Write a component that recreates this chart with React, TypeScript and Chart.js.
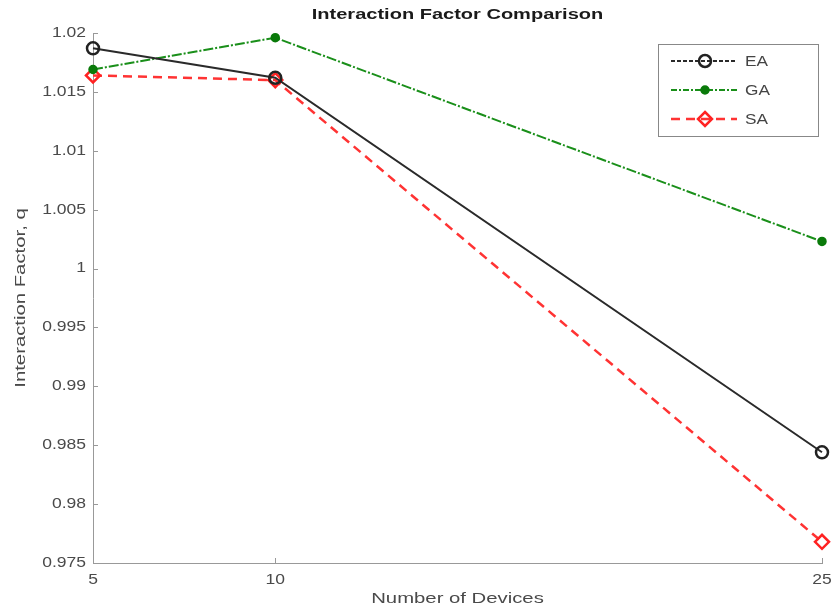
import React, { useEffect, useRef } from "react";
import { Chart, registerables } from "chart.js";

Chart.register(...registerables);

const devices = [5, 10, 25];
const xTickValues = [5, 10, 25];
const eaValues = [1.0187, 1.0162, 0.9844];
const gaValues = [1.0169, 1.0196, 1.0023];
const saValues = [1.0164, 1.0160, 0.9768];

const titleText = "Interaction Factor Comparison";
const xLabel = "Number of Devices";
const yLabel = "Interaction Factor, q";
const legendNames = ["EA", "GA", "SA"];

const FONT = "'Liberation Sans', Arial, Helvetica, sans-serif";

function fmtTick(v: number): string {
  return String(Number(v.toFixed(3)));
}

// Text drawn with a horizontal stretch (wide Helvetica look).
function wideText(
  ctx: CanvasRenderingContext2D,
  text: string,
  x: number,
  y: number,
  sx: number,
  align: CanvasTextAlign
) {
  ctx.save();
  ctx.translate(x, y);
  ctx.scale(sx, 1);
  ctx.textAlign = align;
  ctx.textBaseline = "middle";
  ctx.fillText(text, 0, 0);
  ctx.restore();
}

// Draws MATLAB-like inward ticks, tick labels, title, axis labels and the boxed legend.
const decorPlugin = {
  id: "decor",
  afterDraw(chart: any) {
    const { ctx, chartArea, scales } = chart;
    const xs = scales.x;
    const ys = scales.y;
    ctx.save();
    ctx.strokeStyle = "#999";
    ctx.lineWidth = 1;
    // inward ticks
    ctx.beginPath();
    for (const t of xs.ticks) {
      const px = Math.round(xs.getPixelForValue(t.value)) + 0.5;
      ctx.moveTo(px, chartArea.bottom);
      ctx.lineTo(px, chartArea.bottom - 5);
    }
    for (const t of ys.ticks) {
      const py = Math.round(ys.getPixelForValue(t.value)) + 0.5;
      ctx.moveTo(chartArea.left, py);
      ctx.lineTo(chartArea.left + 5, py);
    }
    ctx.stroke();

    // tick labels
    ctx.fillStyle = "#4a4a4a";
    ctx.font = `14px ${FONT}`;
    for (const t of xs.ticks) {
      wideText(ctx, String(t.value), xs.getPixelForValue(t.value), 580, 1.25, "center");
    }
    for (const t of ys.ticks) {
      wideText(ctx, fmtTick(t.value), 86, ys.getPixelForValue(t.value), 1.25, "right");
    }

    const cx = (chartArea.left + chartArea.right) / 2;
    const cy = (chartArea.top + chartArea.bottom) / 2;

    // title
    ctx.fillStyle = "#1a1a1a";
    ctx.font = `bold 14px ${FONT}`;
    wideText(ctx, titleText, cx, 15, 1.43, "center");

    // axis labels
    ctx.fillStyle = "#4a4a4a";
    ctx.font = `14px ${FONT}`;
    wideText(ctx, xLabel, cx, 599, 1.45, "center");
    ctx.save();
    ctx.translate(21, cy);
    ctx.rotate(-Math.PI / 2);
    wideText(ctx, yLabel, 0, 0, 1.45, "center");
    ctx.restore();

    // legend
    const bx = 658, by = 44, bw = 160, bh = 92;
    ctx.fillStyle = "#fff";
    ctx.fillRect(bx, by, bw, bh);
    ctx.strokeStyle = "#888";
    ctx.lineWidth = 1;
    ctx.strokeRect(bx + 0.5, by + 0.5, bw, bh);

    const rowsY = [61, 90, 119];
    chart.data.datasets.forEach((ds: any, i: number) => {
      const y = rowsY[i];
      ctx.save();
      ctx.strokeStyle = ds.borderColor;
      ctx.lineWidth = ds.borderWidth;
      ctx.setLineDash(ds.legendDash || []);
      ctx.beginPath();
      ctx.moveTo(671, y);
      ctx.lineTo(737, y);
      ctx.stroke();
      ctx.setLineDash([]);
      // marker
      const mx = 705;
      ctx.lineWidth = ds.pointBorderWidth;
      ctx.strokeStyle = ds.pointBorderColor;
      ctx.fillStyle = ds.pointBackgroundColor;
      const r = ds.pointRadius;
      ctx.beginPath();
      if (ds.pointStyle === "rectRot") {
        ctx.moveTo(mx, y - r);
        ctx.lineTo(mx + r, y);
        ctx.lineTo(mx, y + r);
        ctx.lineTo(mx - r, y);
        ctx.closePath();
      } else {
        ctx.arc(mx, y, r, 0, Math.PI * 2);
      }
      ctx.fill();
      ctx.stroke();
      ctx.restore();

      ctx.fillStyle = "#444";
      ctx.font = `14px ${FONT}`;
      wideText(ctx, legendNames[i], 745, y + 1, 1.23, "left");
    });
    ctx.restore();
  },
};

export default function App() {
  const canvasRef = useRef<HTMLCanvasElement | null>(null);

  useEffect(() => {
    document.body.style.margin = "0";
    const canvas = canvasRef.current;
    if (!canvas) return;
    const toPts = (vals: number[]) => devices.map((x, i) => ({ x, y: vals[i] }));
    const chart = new Chart(canvas, {
      type: "line",
      data: {
        datasets: [
          {
            label: legendNames[0],
            data: toPts(eaValues),
            borderColor: "#2a2a2a",
            borderWidth: 2,
            pointStyle: "circle",
            pointRadius: 6,
            pointBorderWidth: 2.5,
            pointBorderColor: "#222",
            pointBackgroundColor: "rgba(255,255,255,0)",
            legendDash: [4, 2],
            clip: false,
          } as any,
          {
            label: legendNames[1],
            data: toPts(gaValues),
            borderColor: "#1a8f1a",
            borderWidth: 2,
            borderDash: [10, 2, 2, 2],
            pointStyle: "circle",
            pointRadius: 4,
            pointBorderWidth: 1.5,
            pointBorderColor: "#0a7a0a",
            pointBackgroundColor: "#0a7a0a",
            legendDash: [6, 2, 2, 2],
            clip: false,
          } as any,
          {
            label: legendNames[2],
            data: toPts(saValues),
            borderColor: "#ff3333",
            borderWidth: 2.5,
            borderDash: [9, 6],
            pointStyle: "rectRot",
            pointRadius: 7,
            pointBorderWidth: 2.5,
            pointBorderColor: "#ff2222",
            pointBackgroundColor: "rgba(255,255,255,0)",
            legendDash: [9, 6],
            clip: false,
          } as any,
        ],
      },
      options: {
        animation: false,
        responsive: false,
        maintainAspectRatio: false,
        layout: { padding: { top: 33, right: 13, left: 0, bottom: 0 } },
        plugins: {
          legend: { display: false },
          tooltip: { enabled: false },
          title: { display: false },
        },
        scales: {
          x: {
            type: "linear",
            min: 5,
            max: 25,
            grid: { display: false, drawTicks: false },
            border: { display: true, color: "#999", width: 1 },
            afterBuildTicks: (scale: any) => {
              scale.ticks = xTickValues.map((v) => ({ value: v }));
            },
            afterFit: (scale: any) => {
              scale.height = 50;
            },
            ticks: { display: false, autoSkip: false },
          },
          y: {
            type: "linear",
            min: 0.975,
            max: 1.02,
            grid: { display: false, drawTicks: false },
            border: { display: true, color: "#999", width: 1 },
            afterFit: (scale: any) => {
              scale.width = 93;
            },
            ticks: { display: false, stepSize: 0.005, autoSkip: false },
          },
        },
      },
      plugins: [decorPlugin],
    } as any);
    return () => chart.destroy();
  }, []);

  return (
    <div style={{ position: "absolute", left: 0, top: 0, width: 835, height: 613, background: "#fff" }}>
      <canvas ref={canvasRef} width={835} height={613} style={{ width: 835, height: 613 }} />
    </div>
  );
}
